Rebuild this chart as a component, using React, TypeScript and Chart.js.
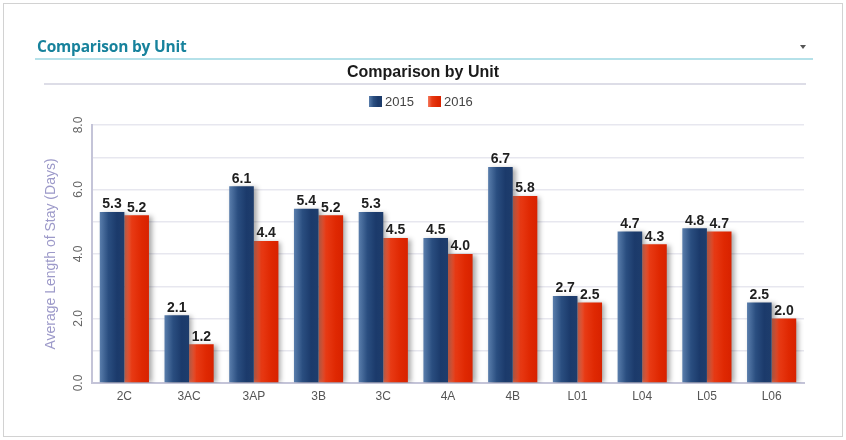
import React, { useEffect, useRef } from "react";
import { Chart, registerables } from "chart.js";

Chart.register(...registerables);

const categories = ["2C", "3AC", "3AP", "3B", "3C", "4A", "4B", "L01", "L04", "L05", "L06"];
const values2015 = [5.3, 2.1, 6.1, 5.4, 5.3, 4.5, 6.7, 2.7, 4.7, 4.8, 2.5];
const values2016 = [5.2, 1.2, 4.4, 5.2, 4.5, 4.0, 5.8, 2.5, 4.3, 4.7, 2.0];
const seriesNames = ["2015", "2016"];
const yTitle = "Average Length of Stay (Days)";
const chartTitle = "Comparison by Unit";

const CAT_PCT = 0.76;

const blueStops: [number, string][] = [
  [0, "#5a7eac"],
  [0.35, "#2a4e80"],
  [0.7, "#1b3a6b"],
  [1, "#1e3d6c"],
];
const redStops: [number, string][] = [
  [0, "#f57a5e"],
  [0.3, "#e83a14"],
  [0.7, "#df2802"],
  [1, "#d82200"],
];

function barGradient(c: any, dsIndex: number, stops: [number, string][], fallback: string) {
  const chart = c.chart;
  const xs = chart.scales && chart.scales.x;
  if (!xs || !chart.chartArea || c.dataIndex === undefined) return fallback;
  const n = categories.length;
  const catW = xs.width / n;
  const size = catW * CAT_PCT;
  const center = xs.getPixelForValue(c.dataIndex);
  const left = center - size / 2 + (dsIndex * size) / 2;
  const right = left + size / 2;
  if (!isFinite(left) || !isFinite(right)) return fallback;
  const g = chart.ctx.createLinearGradient(left, 0, right, 0);
  stops.forEach(([o, col]) => g.addColorStop(o, col));
  return g;
}

const shadowAndLabels = {
  id: "shadowAndLabels",
  beforeDatasetsDraw(chart: any) {
    const ctx = chart.ctx;
    ctx.save();
    ctx.shadowColor = "rgba(0,0,0,0.35)";
    ctx.shadowBlur = 5;
    ctx.shadowOffsetX = 3;
    ctx.shadowOffsetY = 1;
  },
  afterDatasetsDraw(chart: any) {
    const ctx = chart.ctx;
    ctx.restore();
    ctx.save();
    ctx.font = "bold 14px 'Liberation Sans', Arial, sans-serif";
    ctx.fillStyle = "#1f1f1f";
    ctx.textAlign = "center";
    ctx.textBaseline = "bottom";
    chart.data.datasets.forEach((ds: any, di: number) => {
      const meta = chart.getDatasetMeta(di);
      meta.data.forEach((el: any, i: number) => {
        const v = ds.data[i];
        ctx.fillText(Number(v).toFixed(1), el.x, el.y - 0.5);
      });
    });
    ctx.restore();
  },
};

export default function App() {
  const ref = useRef<HTMLCanvasElement | null>(null);

  useEffect(() => {
    if (!ref.current) return;
    const chart = new Chart(ref.current, {
      type: "bar",
      data: {
        labels: categories,
        datasets: [
          {
            label: seriesNames[0],
            data: values2015,
            backgroundColor: (c: any) => barGradient(c, 0, blueStops, "#1f3f6f"),
            borderWidth: 0,
          },
          {
            label: seriesNames[1],
            data: values2016,
            backgroundColor: (c: any) => barGradient(c, 1, redStops, "#e02a05"),
            borderWidth: 0,
          },
        ],
      },
      options: {
        responsive: false,
        animation: false,
        events: [],
        layout: { padding: { top: 125, bottom: 27, left: 39, right: 42 } },
        datasets: { bar: { categoryPercentage: CAT_PCT, barPercentage: 1 } },
        plugins: {
          legend: { display: false },
          title: { display: false },
          tooltip: { enabled: false },
        },
        scales: {
          x: {
            grid: { display: false, drawTicks: false },
            border: { display: true, color: "#c4c4d8", width: 2 },
            ticks: {
              color: "#555",
              font: { size: 12, family: "'Liberation Sans', Arial, sans-serif" },
              padding: 6,
              maxRotation: 0,
              autoSkip: false,
            },
            afterFit: (s: any) => {
              s.height = 30;
            },
          },
          y: {
            min: 0,
            max: 8,
            grid: { color: "#e7e7ef", lineWidth: 1.5, drawTicks: false },
            border: { display: true, color: "#c4c4d8", width: 2 },
            ticks: {
              stepSize: 1,
              minRotation: 90,
              maxRotation: 90,
              crossAlign: "center",
              padding: 5,
              color: "#666",
              font: { size: 12, family: "'Liberation Sans', Arial, sans-serif" },
              callback: (v: any) => (Number(v) % 2 === 0 ? Number(v).toFixed(1) : ""),
            },
            title: {
              display: true,
              text: yTitle,
              color: "#9c99c9",
              font: { size: 14, family: "'Liberation Sans', Arial, sans-serif" },
            },
            afterFit: (s: any) => {
              s.width = 53;
            },
          },
        },
      },
      plugins: [shadowAndLabels],
    } as any);
    return () => chart.destroy();
  }, []);

  const legendBox = (stops: [number, string][]) =>
    `linear-gradient(to right, ${stops.map(([o, c]) => `${c} ${o * 100}%`).join(", ")})`;

  return (
    <div
      style={{
        position: "absolute",
        left: 0,
        top: 0,
        width: 846,
        height: 440,
        background: "#fff",
        overflow: "hidden",
        fontFamily: "'Liberation Sans', Arial, sans-serif",
      }}
    >
      <div
        style={{
          position: "absolute",
          left: 3,
          top: 3,
          width: 838,
          height: 432,
          border: "1px solid #d2d2d2",
        }}
      />
      <canvas ref={ref} width={846} height={440} style={{ position: "absolute", left: 0, top: 0, width: 846, height: 440 }} />
      <div
        style={{
          position: "absolute",
          left: 37,
          top: 36,
          height: 20,
          lineHeight: "20px",
          fontFamily: "'Open Sans', sans-serif",
          fontWeight: 700,
          fontSize: 15.5,
          letterSpacing: -0.2,
          color: "#17829c",
          whiteSpace: "nowrap",
        }}
      >
        {chartTitle}
      </div>
      <div
        style={{
          position: "absolute",
          left: 800,
          top: 45,
          width: 0,
          height: 0,
          borderLeft: "3px solid transparent",
          borderRight: "3px solid transparent",
          borderTop: "4px solid #555",
        }}
      />
      <div style={{ position: "absolute", left: 35, top: 58, width: 778, height: 2, background: "#b5e1e9" }} />
      <div
        style={{
          position: "absolute",
          left: 0,
          width: 846,
          top: 62,
          height: 20,
          lineHeight: "20px",
          textAlign: "center",
          fontWeight: 700,
          fontSize: 16,
          color: "#1a1a1a",
        }}
      >
        {chartTitle}
      </div>
      <div style={{ position: "absolute", left: 44, top: 83, width: 762, height: 2, background: "#dddde7" }} />
      <div
        style={{
          position: "absolute",
          left: 369,
          top: 93,
          height: 16,
          display: "flex",
          alignItems: "center",
          fontSize: 13,
          color: "#444",
          whiteSpace: "nowrap",
        }}
      >
        <span style={{ display: "inline-block", width: 13, height: 11, background: legendBox(blueStops), marginRight: 3 }} />
        <span>{seriesNames[0]}</span>
        <span
          style={{ display: "inline-block", width: 13, height: 11, background: legendBox(redStops), marginLeft: 14, marginRight: 3 }}
        />
        <span>{seriesNames[1]}</span>
      </div>
    </div>
  );
}
